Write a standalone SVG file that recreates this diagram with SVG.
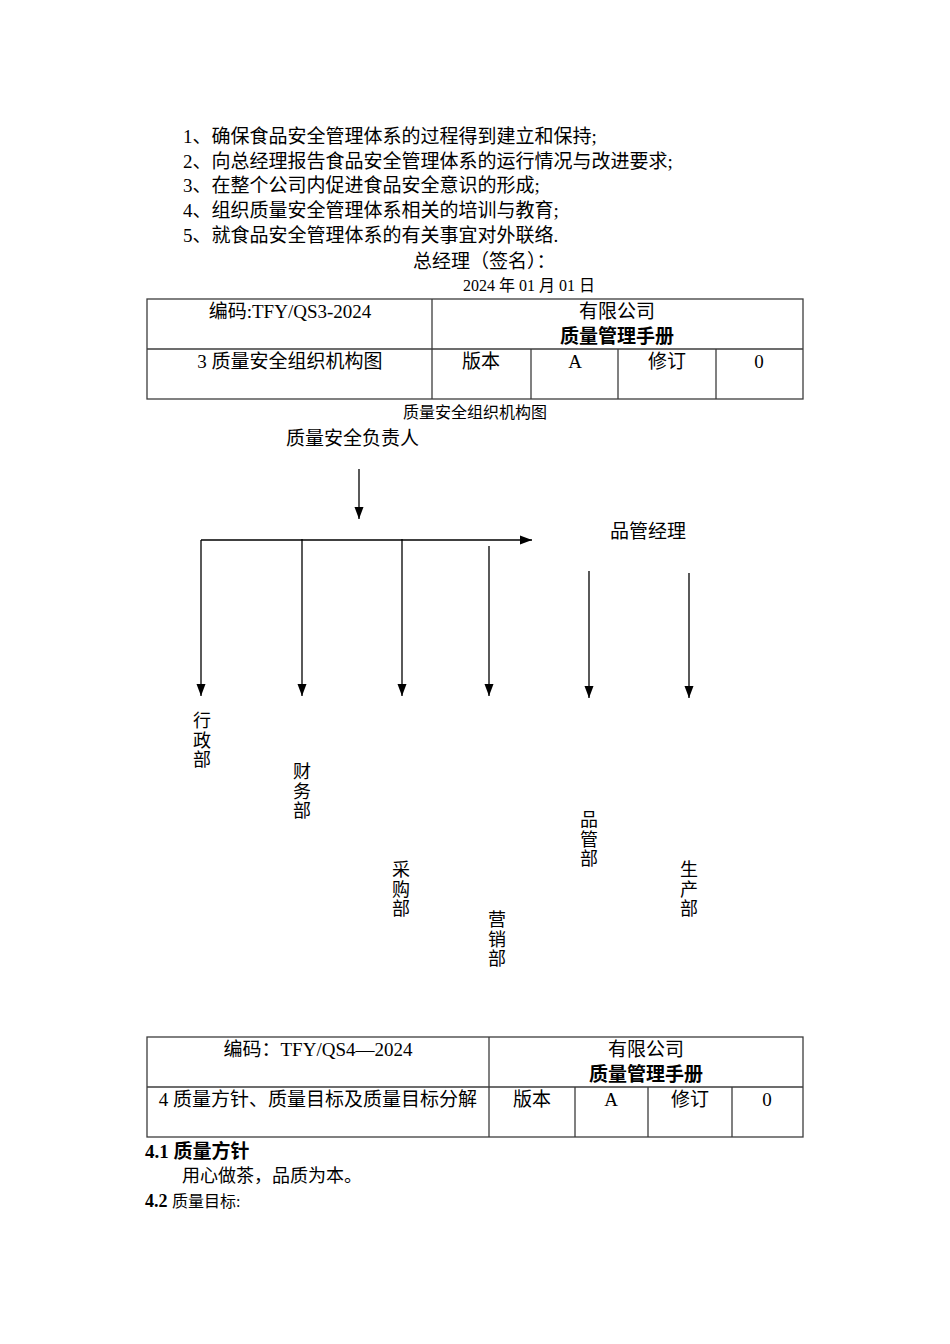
<svg xmlns="http://www.w3.org/2000/svg" width="950" height="1344" viewBox="0 0 950 1344">
<style>
text{font-family:"Liberation Serif","Noto Sans CJK SC",serif;fill:#000;font-size:19px}
.c{text-anchor:middle}
.b{font-weight:bold}
.s16{font-size:16px}
.s18{font-size:18px}
.tb{fill:none;stroke:#3c3c3c;stroke-width:1.3}
.ln{fill:none;stroke:#000;stroke-width:1.3}
</style>
<defs>
<marker id="ah" markerUnits="userSpaceOnUse" markerWidth="13" markerHeight="11" refX="12" refY="5" orient="auto" viewBox="0 0 13 10">
<path d="M0,0.5 L12,5 L0,9.5 Z" fill="#000"/>
</marker>
</defs>
<rect width="950" height="1344" fill="#fff"/>

<g id="duties">
<text x="183" y="143">1、确保食品安全管理体系的过程得到建立和保持;</text>
<text x="183" y="168">2、向总经理报告食品安全管理体系的运行情况与改进要求;</text>
<text x="183" y="192">3、在整个公司内促进食品安全意识的形成;</text>
<text x="183" y="217">4、组织质量安全管理体系相关的培训与教育;</text>
<text x="183" y="242">5、就食品安全管理体系的有关事宜对外联络.</text>
<text x="413" y="268">总经理（签名）：</text>
<text x="463" y="291" class="s16">2024 年 01 月 01 日</text>
</g>

<g id="table1">
<rect class="tb" x="147" y="299" width="656" height="100"/>
<line class="tb" x1="147" y1="349" x2="803" y2="349"/>
<line class="tb" x1="432" y1="299" x2="432" y2="399"/>
<line class="tb" x1="531" y1="349" x2="531" y2="399"/>
<line class="tb" x1="618" y1="349" x2="618" y2="399"/>
<line class="tb" x1="716" y1="349" x2="716" y2="399"/>
<text x="290" y="318" class="c">编码:TFY/QS3-2024</text>
<text x="617" y="318" class="c">有限公司</text>
<text x="617" y="343" class="c b">质量管理手册</text>
<text x="290" y="368" class="c">3 质量安全组织机构图</text>
<text x="481" y="368" class="c">版本</text>
<text x="575" y="368" class="c">A</text>
<text x="667" y="368" class="c">修订</text>
<text x="759" y="368" class="c">0</text>
</g>

<g id="caption">
<text x="475" y="418" class="c s16">质量安全组织机构图</text>
</g>

<g id="node-head"><text x="286" y="445">质量安全负责人</text></g>
<g id="node-qm"><text x="610" y="538">品管经理</text></g>

<g id="connectors">
<line class="ln" x1="359" y1="469" x2="359" y2="519" marker-end="url(#ah)"/>
<line class="ln" x1="201" y1="540" x2="532" y2="540" marker-end="url(#ah)"/>
<line class="ln" x1="201" y1="540" x2="201" y2="696" marker-end="url(#ah)"/>
<line class="ln" x1="302" y1="539" x2="302" y2="696" marker-end="url(#ah)"/>
<line class="ln" x1="402" y1="539" x2="402" y2="696" marker-end="url(#ah)"/>
<line class="ln" x1="489" y1="546" x2="489" y2="696" marker-end="url(#ah)"/>
<line class="ln" x1="589" y1="571" x2="589" y2="698" marker-end="url(#ah)"/>
<line class="ln" x1="689" y1="573" x2="689" y2="698" marker-end="url(#ah)"/>
</g>

<g id="node-admin"><text class="c s18" x="202" y="727"><tspan x="202">行</tspan><tspan x="202" dy="19.5">政</tspan><tspan x="202" dy="19.5">部</tspan></text></g>
<g id="node-finance"><text class="c s18" x="302" y="778"><tspan x="302">财</tspan><tspan x="302" dy="19.5">务</tspan><tspan x="302" dy="19.5">部</tspan></text></g>
<g id="node-purchase"><text class="c s18" x="401" y="876"><tspan x="401">采</tspan><tspan x="401" dy="19.5">购</tspan><tspan x="401" dy="19.5">部</tspan></text></g>
<g id="node-sales"><text class="c s18" x="497" y="926"><tspan x="497">营</tspan><tspan x="497" dy="19.5">销</tspan><tspan x="497" dy="19.5">部</tspan></text></g>
<g id="node-qc"><text class="c s18" x="589" y="826"><tspan x="589">品</tspan><tspan x="589" dy="19.5">管</tspan><tspan x="589" dy="19.5">部</tspan></text></g>
<g id="node-prod"><text class="c s18" x="689" y="876"><tspan x="689">生</tspan><tspan x="689" dy="19.5">产</tspan><tspan x="689" dy="19.5">部</tspan></text></g>

<g id="table2">
<rect class="tb" x="147" y="1037" width="656" height="100"/>
<line class="tb" x1="147" y1="1087" x2="803" y2="1087"/>
<line class="tb" x1="489" y1="1037" x2="489" y2="1137"/>
<line class="tb" x1="575" y1="1087" x2="575" y2="1137"/>
<line class="tb" x1="648" y1="1087" x2="648" y2="1137"/>
<line class="tb" x1="732" y1="1087" x2="732" y2="1137"/>
<text x="318" y="1056" class="c">编码：TFY/QS4—2024</text>
<text x="646" y="1056" class="c">有限公司</text>
<text x="646" y="1081" class="c b">质量管理手册</text>
<text x="318" y="1106" class="c">4 质量方针、质量目标及质量目标分解</text>
<text x="532" y="1106" class="c">版本</text>
<text x="611" y="1106" class="c">A</text>
<text x="690" y="1106" class="c">修订</text>
<text x="767" y="1106" class="c">0</text>
</g>

<g id="section4">
<text x="145" y="1158" class="b" font-size="18">4.1 质量方针</text>
<text x="182" y="1182" class="s18">用心做茶，品质为本。</text>
<text x="145" y="1207"><tspan class="b" font-size="18">4.2 </tspan><tspan font-size="16">质量目标:</tspan></text>
</g>
</svg>
